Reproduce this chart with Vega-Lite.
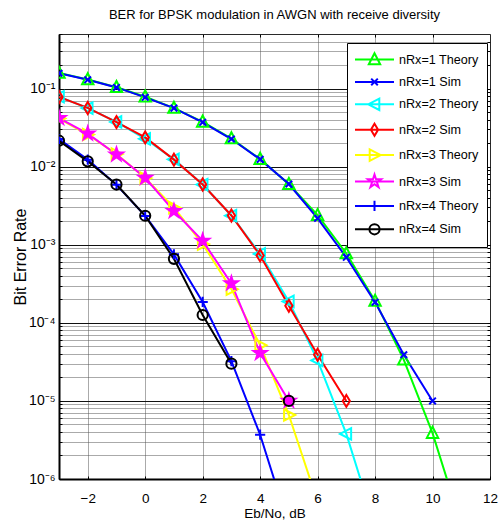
{
  "$schema": "https://vega.github.io/schema/vega-lite/v6.json",
  "width": 431,
  "height": 445,
  "autosize": {"type": "none"},
  "padding": {"left": 59, "top": 34, "right": 9, "bottom": 48},
  "background": "white",
  "title": {"text": "BER for BPSK modulation in AWGN with receive diversity", "fontSize": 13, "fontWeight": "normal", "font": "Liberation Sans", "color": "black", "offset": 5, "anchor": "middle"},
  "config": {
    "view": {"stroke": "black", "strokeWidth": 1},
    "axis": {"labelFont": "Liberation Sans", "titleFont": "Liberation Sans", "labelColor": "black", "titleColor": "black", "titleFontWeight": "normal", "tickColor": "black", "domainColor": "black", "tickWidth": 1},
    "legend": {"strokeColor": "black", "fillColor": "white", "padding": 8, "symbolSize": 225, "symbolStrokeWidth": 2, "symbolOffset": 11, "labelFont": "Liberation Sans", "labelFontSize": 12.6, "labelColor": "black", "labelOffset": 16, "rowPadding": 4.4, "labelLimit": 300, "cornerRadius": 0}
  },
  "data": {"values": [
    {"s": "nRx=1 Theory", "x": -3, "y": 0.1584}, {"s": "nRx=1 Theory", "x": -2, "y": 0.1306}, {"s": "nRx=1 Theory", "x": -1, "y": 0.1038}, {"s": "nRx=1 Theory", "x": 0, "y": 0.0786}, {"s": "nRx=1 Theory", "x": 1, "y": 0.0563}, {"s": "nRx=1 Theory", "x": 2, "y": 0.0375}, {"s": "nRx=1 Theory", "x": 3, "y": 0.0229}, {"s": "nRx=1 Theory", "x": 4, "y": 0.0125}, {"s": "nRx=1 Theory", "x": 5, "y": 0.00595}, {"s": "nRx=1 Theory", "x": 6, "y": 0.00239}, {"s": "nRx=1 Theory", "x": 7, "y": 0.000773}, {"s": "nRx=1 Theory", "x": 8, "y": 0.000191}, {"s": "nRx=1 Theory", "x": 9, "y": 3.36e-5}, {"s": "nRx=1 Theory", "x": 10, "y": 3.87e-6}, {"s": "nRx=1 Theory", "x": 11, "y": 2.6e-7},
    {"s": "nRx=1 Sim", "x": -3, "y": 0.157}, {"s": "nRx=1 Sim", "x": -2, "y": 0.1295}, {"s": "nRx=1 Sim", "x": -1, "y": 0.1035}, {"s": "nRx=1 Sim", "x": 0, "y": 0.0772}, {"s": "nRx=1 Sim", "x": 1, "y": 0.0562}, {"s": "nRx=1 Sim", "x": 2, "y": 0.037}, {"s": "nRx=1 Sim", "x": 3, "y": 0.0226}, {"s": "nRx=1 Sim", "x": 4, "y": 0.0124}, {"s": "nRx=1 Sim", "x": 5, "y": 0.006}, {"s": "nRx=1 Sim", "x": 6, "y": 0.00218}, {"s": "nRx=1 Sim", "x": 7, "y": 0.00069}, {"s": "nRx=1 Sim", "x": 8, "y": 0.000184}, {"s": "nRx=1 Sim", "x": 9, "y": 3.9e-5}, {"s": "nRx=1 Sim", "x": 10, "y": 1e-5},
    {"s": "nRx=2 Theory", "x": -3, "y": 0.0786}, {"s": "nRx=2 Theory", "x": -2, "y": 0.0562}, {"s": "nRx=2 Theory", "x": -1, "y": 0.0374}, {"s": "nRx=2 Theory", "x": 0, "y": 0.02275}, {"s": "nRx=2 Theory", "x": 1, "y": 0.0124}, {"s": "nRx=2 Theory", "x": 2, "y": 0.0059}, {"s": "nRx=2 Theory", "x": 3, "y": 0.00236}, {"s": "nRx=2 Theory", "x": 4, "y": 0.000763}, {"s": "nRx=2 Theory", "x": 5, "y": 0.000188}, {"s": "nRx=2 Theory", "x": 6, "y": 3.3e-5}, {"s": "nRx=2 Theory", "x": 7, "y": 3.78e-6}, {"s": "nRx=2 Theory", "x": 8, "y": 2.5e-7},
    {"s": "nRx=2 Sim", "x": -3, "y": 0.078}, {"s": "nRx=2 Sim", "x": -2, "y": 0.0565}, {"s": "nRx=2 Sim", "x": -1, "y": 0.0372}, {"s": "nRx=2 Sim", "x": 0, "y": 0.0237}, {"s": "nRx=2 Sim", "x": 1, "y": 0.0123}, {"s": "nRx=2 Sim", "x": 2, "y": 0.0059}, {"s": "nRx=2 Sim", "x": 3, "y": 0.00237}, {"s": "nRx=2 Sim", "x": 4, "y": 0.00073}, {"s": "nRx=2 Sim", "x": 5, "y": 0.000165}, {"s": "nRx=2 Sim", "x": 6, "y": 3.9e-5}, {"s": "nRx=2 Sim", "x": 7, "y": 1e-5},
    {"s": "nRx=3 Theory", "x": -3, "y": 0.0414}, {"s": "nRx=3 Theory", "x": -2, "y": 0.0258}, {"s": "nRx=3 Theory", "x": -1, "y": 0.0145}, {"s": "nRx=3 Theory", "x": 0, "y": 0.00715}, {"s": "nRx=3 Theory", "x": 1, "y": 0.00299}, {"s": "nRx=3 Theory", "x": 2, "y": 0.00102}, {"s": "nRx=3 Theory", "x": 3, "y": 0.00027}, {"s": "nRx=3 Theory", "x": 4, "y": 5.18e-5}, {"s": "nRx=3 Theory", "x": 5, "y": 6.6e-6}, {"s": "nRx=3 Theory", "x": 6, "y": 5.1e-7},
    {"s": "nRx=3 Sim", "x": -3, "y": 0.0419}, {"s": "nRx=3 Sim", "x": -2, "y": 0.0265}, {"s": "nRx=3 Sim", "x": -1, "y": 0.0143}, {"s": "nRx=3 Sim", "x": 0, "y": 0.0072}, {"s": "nRx=3 Sim", "x": 1, "y": 0.0027}, {"s": "nRx=3 Sim", "x": 2, "y": 0.00112}, {"s": "nRx=3 Sim", "x": 3, "y": 0.00032}, {"s": "nRx=3 Sim", "x": 4, "y": 4.1e-5}, {"s": "nRx=3 Sim", "x": 5, "y": 1e-5},
    {"s": "nRx=4 Theory", "x": -3, "y": 0.0226}, {"s": "nRx=4 Theory", "x": -2, "y": 0.0123}, {"s": "nRx=4 Theory", "x": -1, "y": 0.00585}, {"s": "nRx=4 Theory", "x": 0, "y": 0.00234}, {"s": "nRx=4 Theory", "x": 1, "y": 0.000753}, {"s": "nRx=4 Theory", "x": 2, "y": 0.000185}, {"s": "nRx=4 Theory", "x": 3, "y": 3.23e-5}, {"s": "nRx=4 Theory", "x": 4, "y": 3.69e-6}, {"s": "nRx=4 Theory", "x": 5, "y": 2.5e-7},
    {"s": "nRx=4 Sim", "x": -3, "y": 0.0215}, {"s": "nRx=4 Sim", "x": -2, "y": 0.0117}, {"s": "nRx=4 Sim", "x": -1, "y": 0.0059}, {"s": "nRx=4 Sim", "x": 0, "y": 0.00235}, {"s": "nRx=4 Sim", "x": 1, "y": 0.00066}, {"s": "nRx=4 Sim", "x": 2, "y": 0.000126}, {"s": "nRx=4 Sim", "x": 3, "y": 3e-5}, {"s": "nRx=4 Sim", "x": 4, "y": null}, {"s": "nRx=4 Sim", "x": 5, "y": 1e-5}
  ]},
  "layer": [
    {
      "mark": {"type": "line", "strokeWidth": 2, "clip": true, "invalid": "break-paths-filter-domains"},
      "encoding": {
        "x": {"field": "x", "type": "quantitative", "scale": {"domain": [-3, 12], "nice": false, "zero": false},
          "axis": {"orient": "bottom", "values": [-2, 0, 2, 4, 6, 8, 10, 12], "grid": true, "gridColor": "#555555", "gridDash": [1, 1], "gridWidth": 1, "tickSize": -3, "labelFontSize": 13.5, "labelPadding": 15, "labelFlush": false, "labelOverlap": false, "title": "Eb/No, dB", "titleFontSize": 13.5, "titlePadding": 2, "domainWidth": 2}},
        "y": {"field": "y", "type": "quantitative", "scale": {"type": "log", "domain": [1e-6, 0.5], "nice": false},
          "axis": {"orient": "left", "values": [1e-6, 2e-6, 3e-6, 4e-6, 5e-6, 6e-6, 7e-6, 8e-6, 9e-6, 1e-5, 2e-5, 3e-5, 4e-5, 5e-5, 6e-5, 7e-5, 8e-5, 9e-5, 1e-4, 2e-4, 3e-4, 4e-4, 5e-4, 6e-4, 7e-4, 8e-4, 9e-4, 0.001, 0.002, 0.003, 0.004, 0.005, 0.006, 0.007, 0.008, 0.009, 0.01, 0.02, 0.03, 0.04, 0.05, 0.06, 0.07, 0.08, 0.09, 0.1, 0.2, 0.3, 0.4, 0.5],
            "labelExpr": "abs(log(datum.value)/LN10 - round(log(datum.value)/LN10)) < 0.001 ? '10⁻' + ['⁰','¹','²','³','⁴','⁵','⁶'][-round(log(datum.value)/LN10)] : ''",
            "grid": true,
            "gridColor": {"condition": {"test": "abs(log(datum.value)/LN10 - round(log(datum.value)/LN10)) < 0.001", "value": "#111111"}, "value": "#555555"},
            "gridDash": {"condition": {"test": "abs(log(datum.value)/LN10 - round(log(datum.value)/LN10)) < 0.001", "value": []}, "value": [1, 1]},
            "tickSize": -3, "labelFontSize": 14, "labelPadding": 7, "labelBaseline": "middle", "labelOverlap": false, "labelFlush": false, "labelBound": false,
            "title": "Bit Error Rate", "titleFontSize": 16, "titlePadding": 0, "domainWidth": 2}},
        "color": {"field": "s", "type": "nominal", "scale": {"domain": ["nRx=1 Theory", "nRx=1 Sim", "nRx=2 Theory", "nRx=2 Sim", "nRx=3 Theory", "nRx=3 Sim", "nRx=4 Theory", "nRx=4 Sim"], "range": ["#00ff00", "#0000ff", "#00ffff", "#ff0000", "#ffff00", "#ff00ff", "#0000ff", "#000000"]}, "legend": null}
      }
    },
    {
      "mark": {"type": "point", "filled": false, "strokeWidth": 2, "size": 144, "opacity": 1, "clip": true},
      "encoding": {
        "x": {"field": "x", "type": "quantitative", "axis": null},
        "y": {"field": "y", "type": "quantitative", "axis": null},
        "color": {"field": "s", "type": "nominal", "scale": {"domain": ["nRx=1 Theory", "nRx=1 Sim", "nRx=2 Theory", "nRx=2 Sim", "nRx=3 Theory", "nRx=3 Sim", "nRx=4 Theory", "nRx=4 Sim"], "range": ["#00ff00", "#0000ff", "#00ffff", "#ff0000", "#ffff00", "#ff00ff", "#0000ff", "#000000"]}, "legend": null},
        "shape": {"field": "s", "type": "nominal", "scale": {"domain": ["nRx=1 Theory", "nRx=1 Sim", "nRx=2 Theory", "nRx=2 Sim", "nRx=3 Theory", "nRx=3 Sim", "nRx=4 Theory", "nRx=4 Sim"], "range": [
          "M0,-1.05L0.95,0.8L-0.95,0.8Z",
          "M-0.55,-0.55L0.55,0.55M-0.55,0.55L0.55,-0.55",
          "M-1.05,0L0.8,-0.95L0.8,0.95Z",
          "M0,-1L0.6,0L0,1L-0.6,0Z",
          "M1.05,0L-0.8,-0.95L-0.8,0.95Z",
          "M0,-1.15L0.259,-0.356L1.094,-0.355L0.418,0.136L0.676,0.93L0,0.44L-0.676,0.93L-0.418,0.136L-1.094,-0.355L-0.259,-0.356Z",
          "M-0.85,0H0.85M0,-0.85V0.85",
          "M-0.85,0A0.85,0.85,0,1,1,0.85,0A0.85,0.85,0,1,1,-0.85,0Z"]}, "legend": null},
        "fill": {"field": "s", "type": "nominal", "scale": {"domain": ["nRx=1 Theory", "nRx=1 Sim", "nRx=2 Theory", "nRx=2 Sim", "nRx=3 Theory", "nRx=3 Sim", "nRx=4 Theory", "nRx=4 Sim"], "range": ["transparent", "transparent", "transparent", "transparent", "transparent", "#ff00ff", "transparent", "transparent"]}, "legend": null}
      }
    },
    {
      "mark": {"type": "point", "filled": false, "strokeWidth": 2, "opacity": 0, "clip": true},
      "encoding": {
        "x": {"field": "x", "type": "quantitative", "axis": {"orient": "top", "values": [-2, 0, 2, 4, 6, 8, 10], "labels": false, "grid": false, "domain": false, "tickSize": -3, "title": null}},
        "y": {"field": "y", "type": "quantitative", "axis": {"orient": "right", "values": [1e-6, 2e-6, 3e-6, 4e-6, 5e-6, 6e-6, 7e-6, 8e-6, 9e-6, 1e-5, 2e-5, 3e-5, 4e-5, 5e-5, 6e-5, 7e-5, 8e-5, 9e-5, 1e-4, 2e-4, 3e-4, 4e-4, 5e-4, 6e-4, 7e-4, 8e-4, 9e-4, 0.001, 0.002, 0.003, 0.004, 0.005, 0.006, 0.007, 0.008, 0.009, 0.01, 0.02, 0.03, 0.04, 0.05, 0.06, 0.07, 0.08, 0.09, 0.1, 0.2, 0.3, 0.4], "labels": false, "grid": false, "domain": false, "tickSize": -3, "title": null}},
        "color": {"field": "s", "type": "nominal", "scale": {"domain": ["nRx=1 Theory", "nRx=1 Sim", "nRx=2 Theory", "nRx=2 Sim", "nRx=3 Theory", "nRx=3 Sim", "nRx=4 Theory", "nRx=4 Sim"], "range": ["#00ff00", "#0000ff", "#00ffff", "#ff0000", "#ffff00", "#ff00ff", "#0000ff", "#000000"]}, "legend": {"orient": "none", "legendX": 288, "legendY": 9, "title": null}},
        "shape": {"field": "s", "type": "nominal", "scale": {"domain": ["nRx=1 Theory", "nRx=1 Sim", "nRx=2 Theory", "nRx=2 Sim", "nRx=3 Theory", "nRx=3 Sim", "nRx=4 Theory", "nRx=4 Sim"], "range": [
          "M-2.6,0H2.6M0,-0.84L0.76,0.64L-0.76,0.64Z",
          "M-2.6,0H2.6M-0.44,-0.44L0.44,0.44M-0.44,0.44L0.44,-0.44",
          "M-2.6,0H2.6M-0.84,0L0.64,-0.76L0.64,0.76Z",
          "M-2.6,0H2.6M0,-0.8L0.48,0L0,0.8L-0.48,0Z",
          "M-2.6,0H2.6M0.84,0L-0.64,-0.76L-0.64,0.76Z",
          "M-2.6,0H2.6M0,-0.92L0.207,-0.285L0.875,-0.284L0.334,0.109L0.541,0.744L0,0.352L-0.541,0.744L-0.334,0.109L-0.875,-0.284L-0.207,-0.285Z",
          "M-2.6,0H2.6M0,-0.68V0.68",
          "M-2.6,0H2.6M-0.68,0A0.68,0.68,0,1,1,0.68,0A0.68,0.68,0,1,1,-0.68,0Z"]}, "legend": {"orient": "none", "legendX": 288, "legendY": 9, "title": null}},
        "fill": {"field": "s", "type": "nominal", "scale": {"domain": ["nRx=1 Theory", "nRx=1 Sim", "nRx=2 Theory", "nRx=2 Sim", "nRx=3 Theory", "nRx=3 Sim", "nRx=4 Theory", "nRx=4 Sim"], "range": ["transparent", "transparent", "transparent", "transparent", "transparent", "#ff00ff", "transparent", "transparent"]}, "legend": {"orient": "none", "legendX": 288, "legendY": 9, "title": null}}
      }
    }
  ],
  "resolve": {"scale": {"color": "independent", "shape": "independent", "fill": "independent"}, "axis": {"x": "independent", "y": "independent"}}
}
